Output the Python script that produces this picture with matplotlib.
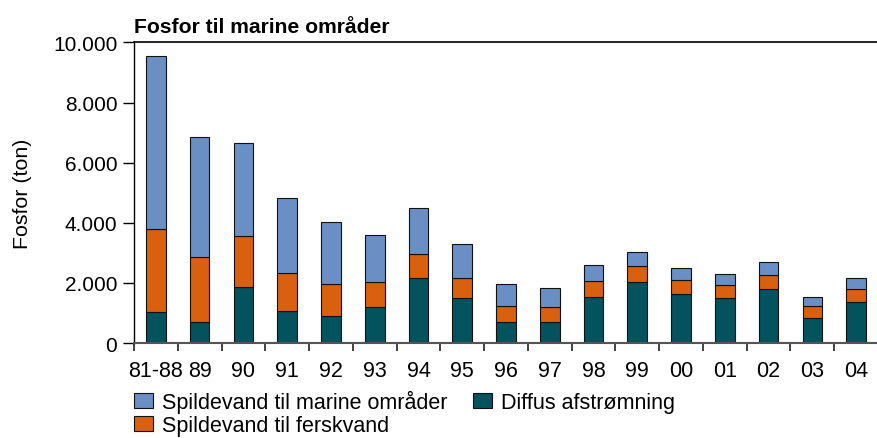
import numpy as np
import matplotlib
matplotlib.use('Agg')
import matplotlib.pyplot as plt
from matplotlib.ticker import FuncFormatter, FixedLocator

plt.rcParams['font.family'] = ['Liberation Sans', 'DejaVu Sans']

# data (ton)
years = ['81-88', '89', '90', '91', '92', '93', '94', '95', '96', '97',
         '98', '99', '00', '01', '02', '03', '04']
diffus = [1040, 700, 1875, 1065, 910, 1210, 2175, 1510, 690, 710,
          1520, 2040, 1620, 1510, 1810, 845, 1375]
ferskvand = [2765, 2165, 1690, 1255, 1045, 820, 775, 665, 540, 500,
             555, 535, 490, 430, 465, 385, 410]
marine = [5750, 3975, 3095, 2495, 2055, 1575, 1530, 1130, 730, 610,
          520, 455, 400, 365, 435, 310, 365]

c_marine = '#6a8fc4'
c_fersk = '#d8600f'
c_diffus = '#02535e'

fig = plt.figure(figsize=(8.78, 4.39), dpi=100)
ax = fig.add_axes([0.1526, 0.2164, 0.8474, 0.6846])

x = np.arange(len(years))
w = 0.45
edge = dict(edgecolor='#111111', linewidth=0.8)
b1 = ax.bar(x, diffus, w, color=c_diffus, label='Diffus afstrømning', **edge)
b2 = ax.bar(x, ferskvand, w, bottom=diffus, color=c_fersk,
            label='Spildevand til ferskvand', **edge)
bottom2 = np.array(diffus) + np.array(ferskvand)
b3 = ax.bar(x, marine, w, bottom=bottom2, color=c_marine,
            label='Spildevand til marine områder', **edge)

ax.set_xlim(-0.5, len(years) - 0.5)
ax.set_ylim(0, 10000)
ax.set_yticks(range(0, 10001, 2000))
ax.yaxis.set_major_formatter(FuncFormatter(lambda v, p: f'{int(v):,}'.replace(',', '.')))
ax.tick_params(axis='y', length=8, width=1, pad=4, labelsize=15)

# labels at centres, tick marks between categories
ax.set_xticks(x)
ax.set_xticklabels(years)
ax.tick_params(axis='x', which='major', length=0, pad=12, labelsize=15.5)
ax.xaxis.set_minor_locator(FixedLocator(np.arange(-0.5, len(years), 1)))
ax.tick_params(axis='x', which='minor', length=6, width=1.2, color='#222222')

ax.spines['right'].set_visible(False)
ax.spines['top'].set_linewidth(1.2)
ax.spines['left'].set_linewidth(1)
ax.spines['bottom'].set_color('#555555')
ax.spines['bottom'].set_linewidth(1.5)

ax.set_ylabel('Fosfor (ton)', fontsize=15.4, labelpad=15)
ax.text(0.0, 1.035, 'Fosfor til marine områder', transform=ax.transAxes,
        fontsize=15.2, fontweight='bold', ha='left', va='baseline')

fig.legend([b3, b2, b1],
           ['Spildevand til marine områder', 'Spildevand til ferskvand',
            'Diffus afstrømning'],
           ncol=2, loc='upper left', bbox_to_anchor=(0.1526, 0.11),
           frameon=False, fontsize=15.5, handlelength=0.88, handleheight=0.7,
           handletextpad=0.42, columnspacing=1.17, labelspacing=0.12,
           borderaxespad=0, borderpad=0)

fig.savefig('out.png', dpi=100)
